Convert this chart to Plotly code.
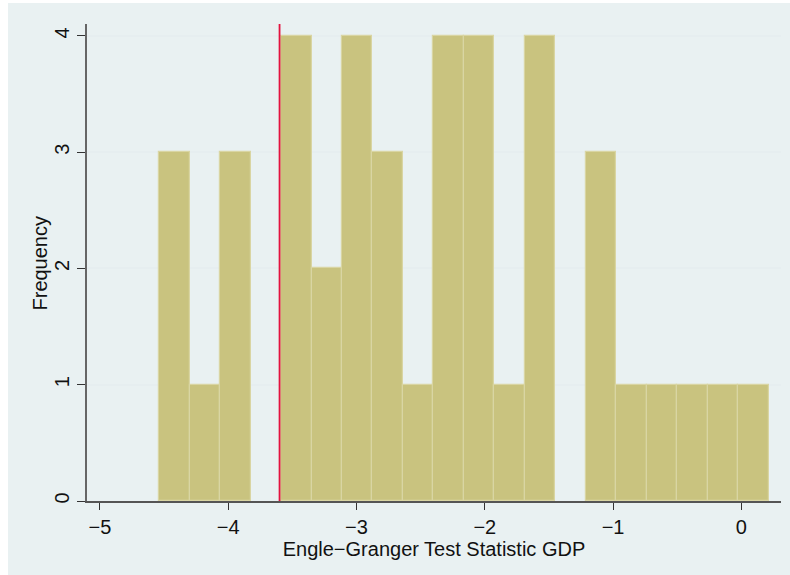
import plotly.graph_objects as go

# Histogram of Engle-Granger test statistics (20 equal-width bins)
bin_start = -4.538
bin_width = 0.2375
counts = [3, 1, 3, 0, 4, 2, 4, 3, 1, 4, 4, 1, 4, 0, 3, 1, 1, 1, 1, 1]
critical_value = -3.60

x_ticks = [-5, -4, -3, -2, -1, 0]
y_ticks = [0, 1, 2, 3, 4]

centers = [bin_start + bin_width * (i + 0.5) for i in range(len(counts))]
# empty bins get no outline so nothing is drawn on the baseline
outline_widths = [1.2 if c > 0 else 0 for c in counts]

W, H = 790, 575
L, R, T, B = 87, 9, 24, 74
pw, ph = W - L - R, H - T - B


def px(xp):
    return (xp - L) / pw


def py(yp):
    return (H - B - yp) / ph


bg = "#e9f1f2"
font = "Liberation Sans, Arial, Helvetica, sans-serif"

fig = go.Figure()
fig.add_trace(go.Bar(
    x=centers,
    y=counts,
    width=[bin_width] * len(counts),
    marker=dict(color="#c9c37f",
                line=dict(color="#d9d5a3", width=outline_widths)),
    hoverinfo="x+y",
))

shapes = [
    # light frame around the white plot region
    dict(type="rect", xref="paper", yref="paper", x0=px(8), x1=px(W + 5),
         y0=py(H + 5), y1=py(3), fillcolor=bg, line=dict(width=0), layer="below"),
    # critical value line
    dict(type="line", xref="x", yref="paper", x0=critical_value, x1=critical_value,
         y0=0, y1=1, line=dict(color="#e3123f", width=1.8), layer="above"),
]

annotations = [
    dict(text="Frequency", xref="paper", yref="paper", x=px(39), y=0.5,
         xanchor="center", yanchor="middle", textangle=-90, showarrow=False,
         font=dict(size=20, family=font, color="#111111")),
]

fig.update_layout(
    width=W, height=H,
    margin=dict(l=L, r=R, t=T, b=B, pad=0),
    paper_bgcolor="white",
    plot_bgcolor="white",
    bargap=0,
    showlegend=False,
    shapes=shapes,
    annotations=annotations,
    font=dict(family=font, size=20, color="#111111"),
    xaxis=dict(
        range=[-5.101, 0.309],
        tickvals=x_ticks,
        ticks="outside", ticklen=7, tickwidth=1.2, tickcolor="#333333",
        showline=True, linecolor="#555555", linewidth=1.6,
        showgrid=False, zeroline=False,
        tickfont=dict(size=20),
        title=dict(text="Engle\u2212Granger Test Statistic GDP",
                   font=dict(size=20), standoff=2),
    ),
    yaxis=dict(
        range=[0, 4.103],
        tickvals=y_ticks,
        tickangle=-90,
        ticks="outside", ticklen=8, tickwidth=1.2, tickcolor="#333333",
        showline=True, linecolor="#666666", linewidth=1.6,
        showgrid=True, gridcolor="#e6eef0", gridwidth=1.5,
        zeroline=False,
        tickfont=dict(size=20),
    ),
)

fig.write_html("out.html")
